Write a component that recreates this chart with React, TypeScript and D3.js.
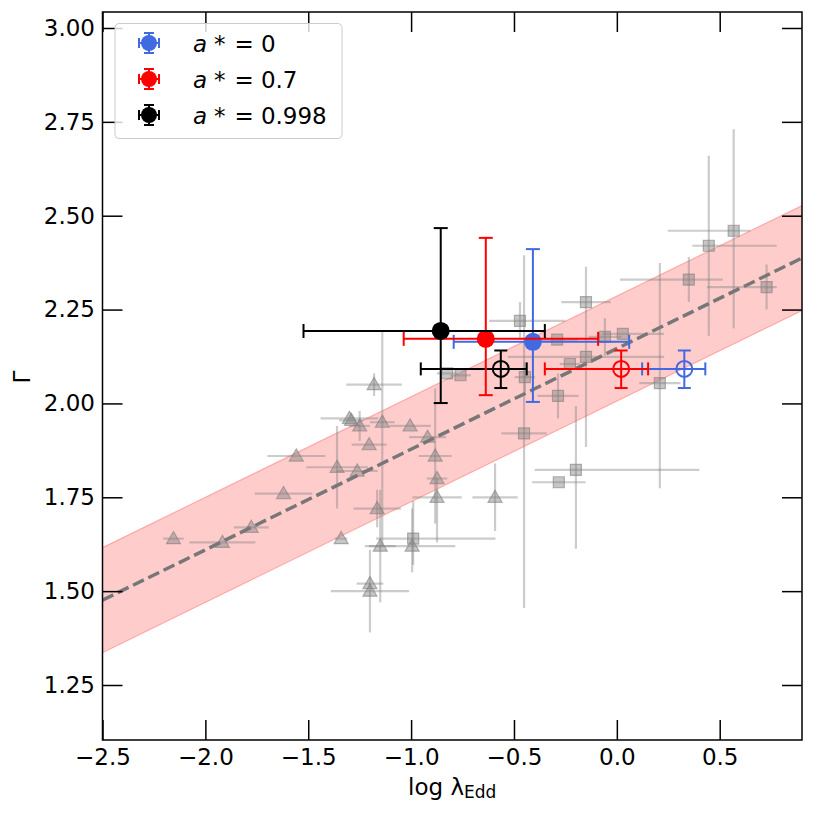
import * as d3 from 'd3';
import { useLayoutEffect, useRef } from 'react';

// grey comparison samples: [x, y, xErrLo, xErrHi, yErrLo, yErrHi]
const triangles = [
  [-2.155, 1.64, 0.05, 0.05, 0, 0],
  [-1.917, 1.63, 0.16, 0.16, 0, 0],
  [-1.777, 1.67, 0.085, 0.085, 0, 0],
  [-1.62, 1.76, 0.14, 0.14, 0, 0],
  [-1.558, 1.86, 0.14, 0.14, 0, 0],
  [-1.36, 1.83, 0.15, 0.15, 0.11, 0.11],
  [-1.3, 1.96, 0.14, 0.14, 0, 0],
  [-1.29, 1.955, 0.06, 0.06, 0, 0],
  [-1.25, 1.94, 0.05, 0.05, 0.04, 0.04],
  [-1.14, 1.95, 0.06, 0.06, 0.33, 0.24],
  [-1.005, 1.94, 0.1, 0.1, 0, 0],
  [-0.92, 1.91, 0.09, 0.09, 0, 0],
  [-1.204, 1.89, 0.085, 0.085, 0, 0],
  [-0.883, 1.86, 0.08, 0.08, 0.18, 0.18],
  [-1.262, 1.82, 0.1, 0.1, 0, 0],
  [-0.874, 1.8, 0.05, 0.05, 0, 0],
  [-0.874, 1.75, 0.12, 0.12, 0.12, 0.05],
  [-0.592, 1.75, 0.11, 0.11, 0.09, 0.09],
  [-1.165, 1.72, 0.115, 0.115, 0.05, 0.05],
  [-1.34, 1.64, 0.03, 0.03, 0, 0],
  [-1.15, 1.62, 0.075, 0.075, 0.15, 0.15],
  [-0.995, 1.62, 0.21, 0.21, 0.07, 0.1],
  [-1.2, 1.52, 0.065, 0.065, 0, 0],
  [-1.2, 1.5, 0.19, 0.19, 0.11, 0.11],
  [-1.18, 2.05, 0.135, 0.135, 0.03, 0.03],
];

const squares = [
  [-0.471, 2.22, 0.15, 0.22, 0.05, 0.05],
  [-0.29, 2.17, 0.1, 0.1, 0, 0],
  [-0.15, 2.27, 0.12, 0.12, 0, 0],
  [-0.058, 2.177, 0.08, 0.08, 0.05, 0.05],
  [0.029, 2.185, 0.1, 0.2, 0, 0],
  [-0.15, 2.124, 0.38, 0.38, 0.24, 0.24],
  [-0.228, 2.105, 0.05, 0.05, 0, 0],
  [-0.447, 2.07, 0.05, 0.05, 0.04, 0.04],
  [-0.451, 1.92, 0.11, 0.11, 0.465, 0.475],
  [-0.286, 2.02, 0.1, 0.1, 0.06, 0.06],
  [0.209, 2.054, 0.1, 0.1, 0.28, 0.32],
  [0.35, 2.33, 0.335, 0.165, 0.06, 0.06],
  [0.447, 2.42, 0.08, 0.33, 0.24, 0.24],
  [0.568, 2.46, 0.32, 0.08, 0.26, 0.27],
  [0.728, 2.31, 0.29, 0.05, 0.06, 0.06],
  [-0.199, 1.823, 0.2, 0.6, 0.21, 0.17],
  [-0.282, 1.79, 0.13, 0.13, 0, 0],
  [-0.99, 1.64, 0.18, 0.4, 0.07, 0.1],
  [-0.825, 2.08, 0.05, 0.05, 0, 0],
  [-0.76, 2.075, 0.05, 0.05, 0, 0],
];

// spin cases
const spinLabels = ['0', '0.7', '0.998'];
const spinColors = ['royalblue', 'red', 'black'];
// filled: [x, y, xErrLo, xErrHi, yErrLo, yErrHi]
const filledPoints = [
  [-0.408, 2.164, 0.385, 0.468, 0.16, 0.247],
  [-0.637, 2.172, 0.399, 0.546, 0.15, 0.269],
  [-0.856, 2.193, 0.667, 0.506, 0.192, 0.274],
];
const openPoints = [
  [0.328, 2.092, 0.205, 0.102, 0.051, 0.049],
  [0.021, 2.092, 0.371, 0.131, 0.051, 0.049],
  [-0.564, 2.092, 0.389, 0.126, 0.051, 0.049],
];

// relation and scatter
const fitSlope = 0.268;
const fitIntercept = 2.146;
const fitScatter = 0.14;

const xTicks = [-2.5, -2.0, -1.5, -1.0, -0.5, 0.0, 0.5];
const yTicks = [1.25, 1.5, 1.75, 2.0, 2.25, 2.5, 2.75, 3.0];

const W = 814;
const H = 814;
const font = 'DejaVu Sans';

const Chart = () => {
  const ref = useRef(null);

  useLayoutEffect(() => {
    const margin = { top: 12, right: 12, bottom: 74, left: 102.5 };
    const x = d3.scaleLinear().domain([-2.5, 0.9]).range([margin.left, W - margin.right]);
    const y = d3.scaleLinear().domain([1.1035, 3.0426]).range([H - margin.bottom, margin.top]);

    const svg = d3.select(ref.current);
    svg.selectAll('*').remove();

    const plot = svg.append('g');
    plot
      .append('clipPath')
      .attr('id', 'clip')
      .append('rect')
      .attr('x', margin.left)
      .attr('y', margin.top)
      .attr('width', W - margin.right - margin.left)
      .attr('height', H - margin.bottom - margin.top);
    const inner = plot.append('g').attr('clip-path', 'url(#clip)');

    // scatter band
    const xs = [-2.5, 0.9];
    const area = d3
      .area()
      .x((d) => x(d))
      .y0((d) => y(fitSlope * d + fitIntercept - fitScatter))
      .y1((d) => y(fitSlope * d + fitIntercept + fitScatter));
    inner.append('path').datum(xs).attr('d', area).attr('fill', 'red').attr('fill-opacity', 0.2);
    [-fitScatter, fitScatter].forEach((off) => {
      inner
        .append('path')
        .datum(xs)
        .attr(
          'd',
          d3
            .line()
            .x((d) => x(d))
            .y((d) => y(fitSlope * d + fitIntercept + off)),
        )
        .attr('fill', 'none')
        .attr('stroke', 'red')
        .attr('stroke-opacity', 0.25)
        .attr('stroke-width', 1.2);
    });

    // grey samples
    const greyBars = (pts) => {
      pts.forEach((p) => {
        const [px, py, xl, xh, yl, yh] = p;
        inner
          .append('line')
          .attr('x1', x(px - xl))
          .attr('x2', x(px + xh))
          .attr('y1', y(py))
          .attr('y2', y(py))
          .attr('stroke', 'grey')
          .attr('stroke-opacity', 0.4)
          .attr('stroke-width', 2.2);
        if (yl + yh > 0) {
          inner
            .append('line')
            .attr('x1', x(px))
            .attr('x2', x(px))
            .attr('y1', y(py - yl))
            .attr('y2', y(py + yh))
            .attr('stroke', 'grey')
            .attr('stroke-opacity', 0.4)
            .attr('stroke-width', 2.2);
        }
      });
    };
    greyBars(triangles);
    greyBars(squares);

    const greyMarks = (pts, type, size) => {
      inner
        .selectAll(null)
        .data(pts)
        .join('path')
        .attr('transform', (d) => `translate(${x(d[0])},${y(d[1]) + (type === d3.symbolTriangle ? 1 : 0)})`)
        .attr('d', d3.symbol(type, size))
        .attr('fill', 'grey')
        .attr('fill-opacity', 0.45)
        .attr('stroke', 'grey')
        .attr('stroke-opacity', 0.6)
        .attr('stroke-width', 1.2);
    };
    greyMarks(triangles, d3.symbolTriangle, 85);
    greyMarks(squares, d3.symbolSquare, 121);

    // best fit
    inner
      .append('path')
      .datum(xs)
      .attr(
        'd',
        d3
          .line()
          .x((d) => x(d))
          .y((d) => y(fitSlope * d + fitIntercept)),
      )
      .attr('fill', 'none')
      .attr('stroke', '#777')
      .attr('stroke-width', 3.5)
      .attr('stroke-dasharray', '12,5');

    // spin points
    const errorbar = (g, cx, cy, xl, xh, yl, yh, color, cap) => {
      const seg = (x1, y1, x2, y2) =>
        g
          .append('line')
          .attr('x1', x1)
          .attr('y1', y1)
          .attr('x2', x2)
          .attr('y2', y2)
          .attr('stroke', color)
          .attr('stroke-width', 2);
      seg(xl, cy, xh, cy);
      seg(cx, yl, cx, yh);
      seg(xl, cy - cap, xl, cy + cap);
      seg(xh, cy - cap, xh, cy + cap);
      seg(cx - cap, yl, cx + cap, yl);
      seg(cx - cap, yh, cx + cap, yh);
    };

    const pointsG = plot.append('g');
    openPoints.forEach((p, i) => {
      const [px, py, xl, xh, yl, yh] = p;
      errorbar(pointsG, x(px), y(py), x(px - xl), x(px + xh), y(py - yl), y(py + yh), spinColors[i], 6.5);
      pointsG
        .append('circle')
        .attr('cx', x(px))
        .attr('cy', y(py))
        .attr('r', 8)
        .attr('fill', 'none')
        .attr('stroke', spinColors[i])
        .attr('stroke-width', 2);
    });
    filledPoints.forEach((p, i) => {
      const [px, py, xl, xh, yl, yh] = p;
      errorbar(pointsG, x(px), y(py), x(px - xl), x(px + xh), y(py - yl), y(py + yh), spinColors[i], 7);
      pointsG
        .append('circle')
        .attr('cx', x(px))
        .attr('cy', y(py))
        .attr('r', 9)
        .attr('fill', spinColors[i]);
    });

    // axes
    const fmtX = (d) => d3.format('.1f')(d).replace('-', '\u2212');
    const fmtY = d3.format('.2f');
    const axisStyle = (g) => {
      g.select('.domain').remove();
      g.selectAll('.tick line').attr('stroke', 'black').attr('stroke-width', 1.5);
      g.selectAll('.tick text').attr('font-family', font).attr('font-size', 23).attr('fill', 'black');
    };
    svg
      .append('g')
      .attr('transform', `translate(0,${H - margin.bottom})`)
      .call(d3.axisBottom(x).tickValues(xTicks).tickFormat(fmtX).tickSizeInner(-20).tickSizeOuter(0).tickPadding(9))
      .call(axisStyle);
    svg
      .append('g')
      .attr('transform', `translate(0,${margin.top})`)
      .call(d3.axisTop(x).tickValues(xTicks).tickFormat(() => '').tickSizeInner(-20).tickSizeOuter(0))
      .call(axisStyle);
    svg
      .append('g')
      .attr('transform', `translate(${margin.left},0)`)
      .call(d3.axisLeft(y).tickValues(yTicks).tickFormat(fmtY).tickSizeInner(-20).tickSizeOuter(0).tickPadding(7.5))
      .call(axisStyle);
    svg
      .append('g')
      .attr('transform', `translate(${W - margin.right},0)`)
      .call(d3.axisRight(y).tickValues(yTicks).tickFormat(() => '').tickSizeInner(-20).tickSizeOuter(0))
      .call(axisStyle);

    svg
      .append('rect')
      .attr('x', margin.left)
      .attr('y', margin.top)
      .attr('width', W - margin.right - margin.left)
      .attr('height', H - margin.bottom - margin.top)
      .attr('fill', 'none')
      .attr('stroke', 'black')
      .attr('stroke-width', 1.5);

    // axis labels
    const xl = svg
      .append('text')
      .attr('x', (margin.left + W - margin.right) / 2)
      .attr('y', 795)
      .attr('text-anchor', 'middle')
      .attr('font-family', font)
      .attr('font-size', 23);
    xl.append('tspan').text('log \u03bb');
    xl.append('tspan').attr('font-size', 17).attr('dy', 3).text('Edd');

    svg
      .append('text')
      .attr('transform', 'translate(30,377) rotate(-90)')
      .attr('text-anchor', 'middle')
      .attr('font-family', font)
      .attr('font-size', 23)
      .text('\u0393');

    // legend
    const leg = svg.append('g');
    leg
      .append('rect')
      .attr('x', 115)
      .attr('y', 23.5)
      .attr('width', 227)
      .attr('height', 115)
      .attr('rx', 4)
      .attr('fill', 'white')
      .attr('fill-opacity', 0.8)
      .attr('stroke', '#cccccc')
      .attr('stroke-width', 1);
    spinLabels.forEach((lab, i) => {
      const cy = 43 + i * 36;
      const cx = 149;
      errorbar(leg, cx, cy, cx - 10, cx + 10, cy + 10, cy - 10, spinColors[i], 5);
      leg.append('circle').attr('cx', cx).attr('cy', cy).attr('r', 8).attr('fill', spinColors[i]);
      const t = leg
        .append('text')
        .attr('x', 193)
        .attr('y', cy + 8.5)
        .attr('font-family', font)
        .attr('font-size', 23);
      t.append('tspan').attr('font-style', 'italic').text('a');
      t.append('tspan').attr('dx', 7).text('*');
      t.append('tspan').attr('dx', 9).text('=');
      t.append('tspan').attr('dx', 7).text(lab);
    });
  }, []);

  return (
    <svg
      ref={ref}
      width={W}
      height={H}
      viewBox={`0 0 ${W} ${H}`}
      style={{ position: 'absolute', left: 0, top: 0, background: 'white' }}
    />
  );
};

export default function App() {
  return <Chart />;
}
